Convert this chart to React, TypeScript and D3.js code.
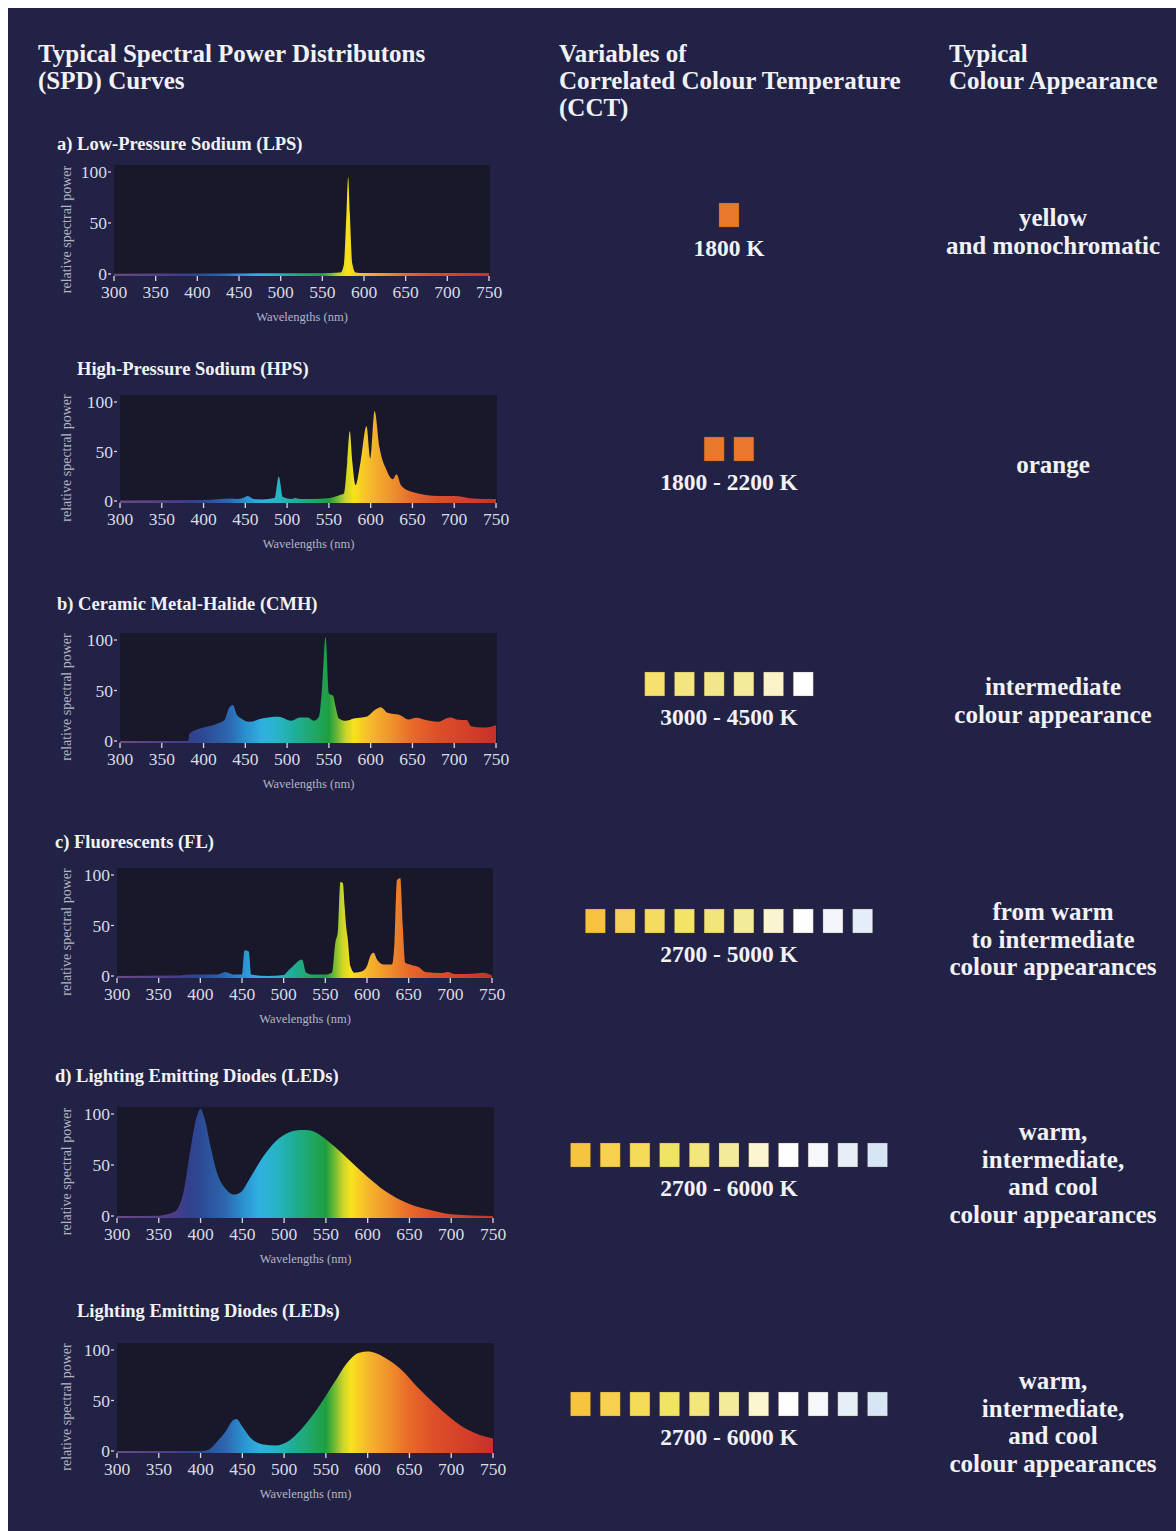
import React from 'react';
import * as d3 from 'd3';

// ---------- data ----------
const WAVE_TICKS = [300, 350, 400, 450, 500, 550, 600, 650, 700, 750];
const POWER_TICKS = [0, 50, 100];

const SPECTRUM_NM = [300, 370, 385, 400, 430, 450, 470, 490, 510, 530, 550, 560, 570, 580, 600, 620, 650, 680, 720, 750];
const SPECTRUM_COLORS = ['#6b4b82', '#4b3c88', '#34408c', '#2c4a94', '#2e66b0', '#2b8fce', '#2fb0e0', '#27b4c6', '#1eae98', '#1fa86c', '#1f9e40', '#6cb834', '#c9d42a', '#f8e21c', '#f5b82c', '#f09a2c', '#e8692a', '#dd4f28', '#d23e2a', '#c8302c'];

const LPS_NM = [300, 400, 500, 560, 572, 576, 579, 581, 583, 586, 590, 600, 700, 750];
const LPS_POWER = [0.3, 0.5, 0.8, 1, 1.5, 10, 60, 95, 60, 10, 1.5, 1, 1, 1];

const HPS_NM = [300, 400, 433, 440, 447, 453, 460, 470, 485, 490, 495, 505, 510, 515, 530, 551, 563, 568, 572, 575, 578, 582, 588, 595, 599.5, 604.7, 610.6, 618.6, 626.5, 631, 636.5, 650, 682, 700, 722, 750];
const HPS_POWER = [0.5, 1, 2.6, 2, 3, 5, 2, 1.5, 3, 24.7, 4, 2, 3, 2, 2, 3, 6, 7.5, 40, 70.8, 40, 16, 40, 75.6, 43, 91, 54, 32, 22, 27, 15.6, 9, 5, 5, 2.6, 2];

const CMH_NM = [300, 380, 382, 383, 400, 415, 425, 430, 435, 440, 445, 455, 470, 490, 505, 515, 525, 532, 538, 542, 546, 550, 555, 558, 562, 570, 580, 595, 605, 612, 620, 635, 645, 655, 665, 680, 695, 705, 715, 720, 735, 750];
const CMH_POWER = [0, 0, 1, 7.3, 13.3, 16.7, 20.7, 32, 35.7, 25.7, 22.3, 19, 22.3, 24, 20, 23.3, 23.3, 20, 24, 54, 103, 47, 44.7, 34, 22.3, 20, 22.3, 24, 30.7, 33.3, 28, 25.7, 21.3, 23, 21, 19, 23.3, 21, 20.7, 14.7, 13.3, 15.7];

const FL_NM = [300, 370, 390, 420, 430, 440, 450, 453, 458, 461, 480, 500, 505, 512, 522, 527, 535, 550, 558, 562, 565, 567, 568, 571, 573, 575, 577, 580, 585, 595, 600, 604, 608, 612, 620, 630, 633, 636, 640, 643, 646, 655, 662, 670, 690, 697, 705, 720, 740, 750];
const FL_POWER = [0, 0.5, 1.6, 1.5, 4, 1.5, 1.6, 25.6, 24.6, 1.6, 0, 1, 5, 10.5, 16.4, 3.3, 1.5, 1.5, 3.3, 33, 44, 82, 93, 92, 70.5, 49, 36, 9.8, 3.3, 5, 9.8, 19.7, 23, 16.4, 11.5, 11.5, 33, 95, 96.7, 49, 13, 10.5, 9, 4, 3, 4, 2, 2, 3.3, 0.5];

const LED1_NM = [300, 350, 360, 370, 380, 388, 395, 400, 405, 412, 420, 430, 440, 448, 460, 475, 490, 505, 520, 530, 545, 560, 580, 600, 620, 650, 680, 700, 750];
const LED1_POWER = [0, 0.3, 1.7, 5, 25, 65.7, 96, 105, 95, 68, 41.7, 26.7, 21, 23.3, 38.3, 58.3, 73.3, 81.7, 84.3, 84, 78.3, 68.3, 53.3, 38.3, 25, 11.7, 5, 1.7, 0];

const LED2_NM = [300, 400, 410, 420, 430, 438, 443, 450, 460, 475, 490, 505, 520, 540, 560, 575, 590, 600, 610, 625, 640, 660, 680, 700, 720, 735, 750];
const LED2_POWER = [0, 0, 1.6, 9.7, 19.4, 29.7, 31.6, 24.2, 12.9, 6.5, 5.5, 9.7, 21, 42, 67.7, 87, 97.4, 98.4, 96.8, 90, 80.6, 62.9, 46.8, 32.3, 21, 15.5, 12.3];

const PANEL_TITLES = [
  'a) Low-Pressure Sodium (LPS)',
  'High-Pressure Sodium (HPS)',
  'b) Ceramic Metal-Halide (CMH)',
  'c) Fluorescents (FL)',
  'd) Lighting Emitting Diodes (LEDs)',
  'Lighting Emitting Diodes (LEDs)',
];
const SERIES_NM = [LPS_NM, HPS_NM, CMH_NM, FL_NM, LED1_NM, LED2_NM];
const SERIES_POWER = [LPS_POWER, HPS_POWER, CMH_POWER, FL_POWER, LED1_POWER, LED2_POWER];

const CCT_LPS = ['#e8782a'];
const CCT_HPS = ['#e8782a', '#e8782a'];
const CCT_CMH = ['#f5e070', '#f3e680', '#f2e68a', '#f3ea9a', '#faf3c8', '#ffffff'];
const CCT_FL = ['#f7c240', '#f6cf58', '#f5dc60', '#f2e466', '#f1e47a', '#f2eb98', '#faf4d0', '#fefefe', '#f4f6fc', '#e4eef8'];
const CCT_LED = ['#f7c440', '#f8d050', '#f5dc58', '#f0e560', '#f2e67c', '#f3ea9a', '#fbf5d0', '#fefefe', '#f6f8fc', '#e6eef8', '#d6e6f4'];
const CCT_SWATCHES = [CCT_LPS, CCT_HPS, CCT_CMH, CCT_FL, CCT_LED, CCT_LED];
const CCT_LABELS = ['1800 K', '1800 - 2200 K', '3000 - 4500 K', '2700 - 5000 K', '2700 - 6000 K', '2700 - 6000 K'];

const APPEARANCES = [
  ['yellow', 'and monochromatic'],
  ['orange'],
  ['intermediate', 'colour appearance'],
  ['from warm', 'to intermediate', 'colour appearances'],
  ['warm,', 'intermediate,', 'and cool', 'colour appearances'],
  ['warm,', 'intermediate,', 'and cool', 'colour appearances'],
];

const HEADERS = [
  ['Typical Spectral Power Distributons', '(SPD) Curves'],
  ['Variables of', 'Correlated Colour Temperature', '(CCT)'],
  ['Typical', 'Colour Appearance'],
];

// ---------- layout ----------
const FONT = "'Liberation Serif', 'DejaVu Serif', serif";
const BG = '#222247';
const PLOT_BG = '#18182a';
const TEXT = '#f2f2f4';

const HEADER_X = [38, 559, 949];
const HEADER_Y = 62;
const HEADER_LH = 27;

const PANEL_LAYOUT = [
  { tx: 57, ty: 150, l: 114, r: 490, t: 165, b: 276 },
  { tx: 77, ty: 375, l: 120, r: 497, t: 395, b: 503 },
  { tx: 57, ty: 610, l: 120, r: 497, t: 633, b: 743 },
  { tx: 55, ty: 848, l: 117, r: 493, t: 868, b: 978 },
  { tx: 55, ty: 1082, l: 117, r: 494, t: 1107, b: 1218 },
  { tx: 77, ty: 1317, l: 117, r: 494, t: 1343, b: 1453 },
];
const SWATCH_TOP = [203, 437, 672, 909, 1143, 1392];
const SWATCH_CX = 729;
const SWATCH_W = 20;
const SWATCH_H = 24;
const SWATCH_PITCH = 29.7;
const APPEAR_CX = 1053;
const APPEAR_FIRST = [226, 473, 695, 920, 1140, 1389];
const APPEAR_LH = 27.5;

function Panel({ i }: { i: number }) {
  const lay = PANEL_LAYOUT[i];
  const x = d3.scaleLinear().domain([300, 750]).range([lay.l, lay.r - 1]);
  const y = d3.scaleLinear().domain([0, 100]).range([lay.b - 2, lay.t + 7]);
  const pts: [number, number][] = SERIES_NM[i].map((n, k) => [n, SERIES_POWER[i][k]]);
  const area = d3
    .area<[number, number]>()
    .x((d) => x(d[0]))
    .y0(lay.b)
    .y1((d) => y(d[1]))
    .curve(d3.curveMonotoneX);
  const gid = `spec-${i}`;
  const cid = `clip-${i}`;
  const cy = (lay.t + lay.b) / 2;
  return (
    <g>
      <defs>
        <linearGradient id={gid} gradientUnits="userSpaceOnUse" x1={x(300)} x2={x(750)} y1={0} y2={0}>
          {SPECTRUM_NM.map((n, k) => (
            <stop key={k} offset={(n - 300) / 450} stopColor={SPECTRUM_COLORS[k]} />
          ))}
        </linearGradient>
        <clipPath id={cid}>
          <rect x={lay.l} y={lay.t} width={lay.r - lay.l} height={lay.b - lay.t} />
        </clipPath>
      </defs>
      <text x={lay.tx} y={lay.ty} fill={TEXT} fontSize={18.5} fontWeight="bold" fontFamily={FONT}>
        {PANEL_TITLES[i]}
      </text>
      <rect x={lay.l} y={lay.t} width={lay.r - lay.l} height={lay.b - lay.t} fill={PLOT_BG} />
      <path d={area(pts) || ''} fill={`url(#${gid})`} clipPath={`url(#${cid})`} />
      {WAVE_TICKS.map((t) => (
        <g key={t}>
          <line x1={x(t)} x2={x(t)} y1={lay.b} y2={lay.b + 5} stroke="#d8d8e0" strokeWidth={1.3} />
          <text x={x(t)} y={lay.b + 22} textAnchor="middle" fill="#dcdce4" fontSize={17.5} fontFamily={FONT}>
            {t}
          </text>
        </g>
      ))}
      {POWER_TICKS.map((t) => (
        <g key={t}>
          <line x1={lay.l - 6} x2={lay.l - 3} y1={y(t)} y2={y(t)} stroke="#d8d8e0" strokeWidth={1.3} />
          <text x={lay.l - 7} y={y(t) + 6} textAnchor="end" fill="#dcdce4" fontSize={17.5} fontFamily={FONT}>
            {t}
          </text>
        </g>
      ))}
      <text
        transform={`translate(${68},${cy + 9}) rotate(-90)`}
        textAnchor="middle"
        dominantBaseline="middle"
        fill="#b4b4c2"
        fontSize={14}
        fontFamily={FONT}
      >
        relative spectral power
      </text>
      <text x={(lay.l + lay.r) / 2} y={lay.b + 45} textAnchor="middle" fill="#b4b4c2" fontSize={12.5} fontFamily={FONT}>
        Wavelengths (nm)
      </text>
    </g>
  );
}

function Swatches({ i }: { i: number }) {
  const cols = CCT_SWATCHES[i];
  const n = cols.length;
  const band = d3
    .scaleBand<number>()
    .domain(d3.range(n))
    .range([SWATCH_CX - (n * SWATCH_PITCH) / 2, SWATCH_CX + (n * SWATCH_PITCH) / 2])
    .paddingInner(1 - SWATCH_W / SWATCH_PITCH)
    .paddingOuter((1 - SWATCH_W / SWATCH_PITCH) / 2);
  const top = SWATCH_TOP[i];
  return (
    <g>
      {cols.map((c, k) => (
        <rect key={k} x={band(k)} y={top} width={band.bandwidth()} height={SWATCH_H} fill={c} stroke="rgba(120,80,40,0.35)" strokeWidth={0.8} />
      ))}
      <text x={SWATCH_CX} y={top + 53} textAnchor="middle" fill={TEXT} fontSize={23.5} fontWeight="bold" fontFamily={FONT}>
        {CCT_LABELS[i]}
      </text>
    </g>
  );
}

export default function App() {
  return (
    <svg
      width={1168}
      height={1523}
      style={{ position: 'fixed', top: 8, left: 8, display: 'block' }}
    >
      <g transform="translate(-8,-8)">
        <rect x={8} y={8} width={1168} height={1523} fill={BG} />
        {HEADERS.map((lines, h) =>
          lines.map((s, k) => (
            <text
              key={`${h}-${k}`}
              x={HEADER_X[h]}
              y={HEADER_Y + k * HEADER_LH}
              fill={TEXT}
              fontSize={25}
              fontWeight="bold"
              fontFamily={FONT}
            >
              {s}
            </text>
          ))
        )}
        {PANEL_TITLES.map((_, i) => (
          <Panel key={i} i={i} />
        ))}
        {CCT_LABELS.map((_, i) => (
          <Swatches key={i} i={i} />
        ))}
        {APPEARANCES.map((lines, i) =>
          lines.map((s, k) => (
            <text
              key={`${i}-${k}`}
              x={APPEAR_CX}
              y={APPEAR_FIRST[i] + k * APPEAR_LH}
              textAnchor="middle"
              fill={TEXT}
              fontSize={25}
              fontWeight="bold"
              fontFamily={FONT}
            >
              {s}
            </text>
          ))
        )}
      </g>
    </svg>
  );
}
